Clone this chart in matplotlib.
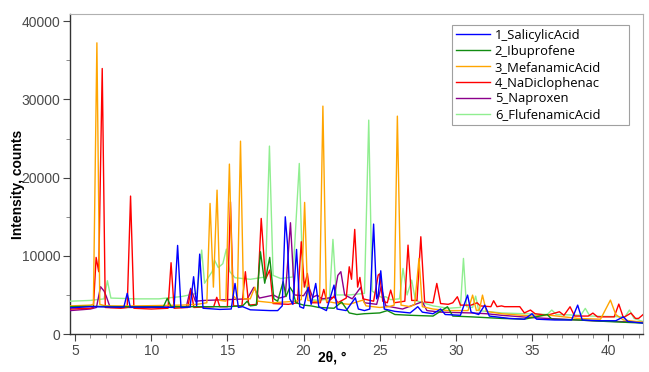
import matplotlib
matplotlib.use("Agg")
import matplotlib.pyplot as plt
from matplotlib.ticker import MultipleLocator

plt.rcParams['font.family'] = ['Liberation Sans', 'DejaVu Sans']

# vertices: 2theta (deg) and intensity (counts)
salicylic_2theta = [4.67, 6.0, 7.5, 8.2, 8.42, 8.62, 10.5, 11.5, 11.73, 11.95, 12.55, 12.78, 12.98, 13.18, 13.4,
                    14.5, 15.25, 15.5, 15.72, 16.0, 16.5, 17.8, 18.3, 18.6, 18.8, 18.95, 19.1, 19.3, 19.54, 19.75,
                    20.0, 20.3, 20.5, 20.8, 21.0, 21.5, 22.0, 22.2, 22.8, 23.4, 23.6, 24.0, 24.35, 24.6, 24.8,
                    24.9, 25.07, 25.3, 26.0, 27.0, 27.5, 27.8, 28.5, 29.0, 29.3, 30.3, 30.77, 31.0, 31.5, 31.9,
                    32.2, 33.5, 34.5, 35.0, 35.3, 36.5, 37.6, 38.0, 38.3, 39.5, 40.5, 41.0, 41.3, 42.3]
salicylic_counts = [3350, 3500, 3450, 3450, 5200, 3450, 3450, 3400, 11330, 3400, 3450, 7330, 3600, 10220, 3300,
                    3150, 3200, 6470, 3400, 3500, 3100, 3000, 3000, 3600, 14990, 11400, 4500, 3800, 10820, 3500,
                    3300, 5970, 3800, 6470, 3500, 3000, 6260, 3200, 3000, 4630, 3200, 3000, 3200, 14060, 4500,
                    5000, 8090, 3200, 2900, 2700, 3500, 2800, 2600, 3200, 2500, 2400, 4980, 2800, 2500, 3700,
                    2300, 2000, 1900, 2600, 1900, 1800, 1800, 3700, 1800, 1700, 1700, 2200, 1600, 1400]

ibuprofen_2theta = [4.67, 6.0, 8.0, 10.8, 11.05, 11.3, 12.0, 15.0, 16.0, 16.3, 16.5, 16.9, 17.17, 17.45, 17.78,
                    18.05, 18.3, 18.66, 18.85, 19.1, 19.3, 19.5, 20.0, 20.5, 21.0, 22.0, 22.5, 23.0, 23.5, 24.0,
                    25.0, 25.5, 26.0, 27.0, 28.5, 29.45, 29.8, 31.0, 32.0, 33.0, 34.5, 36.0, 36.3, 38.0, 40.0, 42.3]
ibuprofen_counts = [3500, 3550, 3500, 3500, 4560, 3500, 3500, 3500, 3600, 4200, 3600, 3700, 10520, 6500, 9800,
                    4500, 4200, 6690, 4800, 6000, 5400, 4000, 3700, 3600, 3400, 3300, 4100, 2700, 2500, 2600,
                    2700, 3000, 2500, 2400, 2300, 3490, 2300, 2200, 2100, 2000, 1900, 2500, 1900, 1800, 1600, 1400]

mefenamic_2theta = [4.67, 6.0, 6.2, 6.43, 6.62, 7.0, 9.0, 12.0, 13.0, 13.65, 13.86, 14.08, 14.32, 14.52, 14.9,
                    15.13, 15.35, 15.65, 15.86, 16.06, 16.5, 16.8, 17.0, 18.0, 19.5, 19.85, 20.07, 20.28, 21.05,
                    21.27, 21.5, 22.0, 23.0, 23.9, 24.1, 25.0, 25.6, 25.95, 26.16, 26.4, 27.0, 27.3, 27.58, 27.8,
                    28.5, 29.5, 30.8, 31.1, 31.35, 31.55, 31.75, 32.0, 33.0, 35.0, 36.2, 38.0, 39.5, 40.15, 40.5,
                    41.0, 42.3]
mefenamic_counts = [3600, 3700, 3800, 37230, 3800, 3600, 3600, 3700, 3800, 4000, 16700, 6000, 18400, 4300, 4200,
                    21730, 5000, 4300, 24660, 4500, 4500, 6000, 4200, 4000, 4200, 4400, 16830, 4300, 4100,
                    29140, 4200, 4000, 3800, 4340, 3600, 3400, 3500, 3700, 27860, 3700, 3500, 3800, 9670, 3500,
                    3200, 3000, 3000, 4980, 3000, 3100, 4980, 2900, 2600, 2300, 2400, 2000, 1900, 4340, 2500,
                    1800, 1500]

diclofenac_2theta = [4.67, 6.0, 6.2, 6.38, 6.55, 6.78, 6.98, 8.0, 8.42, 8.64, 8.86, 10.0, 11.1, 11.3, 11.5, 12.4,
                     12.6, 12.8, 14.1, 14.3, 14.5, 15.0, 15.2, 15.4, 15.95, 16.18, 16.4, 16.95, 17.22, 17.5,
                     17.78, 18.0, 19.0, 19.6, 19.85, 20.05, 20.25, 20.5, 21.1, 21.33, 21.55, 22.0, 22.25, 22.8,
                     23.0, 23.15, 23.36, 23.55, 23.7, 23.9, 24.6, 24.9, 25.0, 25.2, 25.5, 25.72, 25.95, 26.65,
                     26.86, 27.1, 27.45, 27.7, 27.95, 28.5, 28.75, 29.0, 29.5, 29.8, 30.1, 30.3, 31.0, 31.4, 31.6,
                     32.3, 32.48, 32.7, 33.0, 33.2, 34.2, 34.5, 34.9, 35.2, 36.0, 36.8, 37.1, 37.5, 37.8, 38.7,
                     39.0, 39.3, 40.4, 40.7, 41.0, 41.5, 41.8, 42.0, 42.3]
diclofenac_counts = [3200, 3300, 3400, 9800, 7970, 33950, 3400, 3300, 3400, 17640, 3300, 3200, 3300, 9120, 3300, 3400,
                     5600, 3400, 3500, 4700, 3500, 3500, 16900, 3600, 3600, 7970, 3700, 3800, 14780, 7000,
                     8180, 3900, 3800, 4000, 11800, 6000, 7750, 4000, 4000, 5710, 4000, 4800, 4000, 4600,
                     8600, 7000, 13380, 6000, 7240, 4500, 4200, 7540, 7700, 4200, 4000, 5620, 4000, 4200,
                     11370, 4300, 4300, 12440, 4100, 4000, 6470, 3900, 3800, 4000, 4770, 3700, 3700, 4000, 3600,
                     3500, 4260, 3500, 3600, 3500, 3500, 2700, 3070, 2600, 2400, 2850, 2400, 3490, 2300, 2300,
                     2680, 2200, 2200, 3830, 2100, 2680, 2000, 2000, 2500]

naproxen_2theta = [4.67, 6.0, 6.4, 6.67, 6.9, 7.05, 7.3, 10.0, 12.3, 12.59, 12.9, 13.5, 15.0, 16.3, 16.73, 17.1,
                   18.03, 18.4, 18.8, 19.14, 19.4, 20.0, 20.35, 20.6, 20.9, 21.2, 22.0, 22.25, 22.45, 22.7, 23.2,
                   23.75, 24.0, 24.8, 25.1, 25.4, 26.5, 27.8, 28.1, 29.0, 31.0, 32.0, 33.0, 35.0, 37.0, 39.0, 42.3]
naproxen_counts = [3000, 3200, 3400, 6050, 5500, 4800, 3400, 3400, 3500, 5840, 4200, 4300, 4400, 4500, 5970, 4600,
                   4980, 4600, 4800, 14230, 5000, 4900, 5970, 4700, 4980, 4500, 4700, 7500, 7970, 5000, 4500,
                   5970, 4000, 3800, 6050, 3600, 3200, 4130, 3000, 2800, 2700, 2600, 2400, 2100, 1900, 1700, 1500]

flufenamic_2theta = [4.67, 6.0, 6.9, 7.12, 7.35, 9.0, 10.5, 12.0, 13.0, 13.31, 13.5, 14.0, 14.15, 14.4, 14.7, 14.93,
                     15.15, 15.5, 16.5, 17.5, 17.76, 18.0, 18.5, 19.3, 19.72, 19.95, 20.3, 20.5, 21.0, 21.7, 21.93,
                     22.15, 23.0, 24.0, 24.28, 24.5, 25.1, 25.4, 25.7, 26.3, 26.53, 26.8, 27.1, 27.35, 28.5, 29.5,
                     30.3, 30.5, 30.7, 31.1, 31.3, 31.5, 33.0, 36.0, 36.3, 36.6, 38.2, 38.5, 38.8, 41.1, 41.4, 41.7,
                     42.3]
flufenamic_counts = [4200, 4300, 4500, 6820, 4600, 4500, 4500, 4800, 5200, 10740, 6500, 8000, 9460, 8500, 9000, 10860,
                     8000, 7200, 7000, 7300, 24030, 7500, 7100, 7300, 21810, 7000, 5500, 4400, 4300, 4500, 12100,
                     5000, 5000, 5200, 27350, 5500, 4700, 4770, 4400, 4500, 8390, 5000, 6900, 4300, 3600, 3300,
                     3400, 9670, 3500, 3400, 4850, 3000, 2700, 2500, 3070, 2500, 2400, 3280, 2300, 2200, 3070, 2000,
                     1600]

names = ['1_SalicylicAcid', '2_Ibuprofene', '3_MefanamicAcid', '4_NaDiclophenac', '5_Naproxen', '6_FlufenamicAcid']
colors = ['#0000ff', '#118c11', '#ffa500', '#ff0000', '#8b008b', '#90ee90']
series = [(salicylic_2theta, salicylic_counts), (ibuprofen_2theta, ibuprofen_counts),
          (mefenamic_2theta, mefenamic_counts), (diclofenac_2theta, diclofenac_counts),
          (naproxen_2theta, naproxen_counts), (flufenamic_2theta, flufenamic_counts)]

fig = plt.figure(figsize=(6.49, 3.72), dpi=100)
ax = fig.add_axes([0.108, 0.102, 0.883, 0.86])

for i, ((x, y), name, c) in enumerate(zip(series, names, colors)):
    ax.plot(x, y, color=c, lw=1.0, label=name, zorder=10 - i)

ax.set_xlim(4.67, 42.3)
ax.set_ylim(0, 40900)
ax.xaxis.set_major_locator(MultipleLocator(5))
ax.xaxis.set_minor_locator(MultipleLocator(1))
ax.yaxis.set_major_locator(MultipleLocator(10000))
ax.yaxis.set_minor_locator(MultipleLocator(5000))
ax.tick_params(which='major', length=5, width=0.8, color='#444444', labelsize=10, labelcolor='#4a4a4a', pad=2)
ax.tick_params(which='minor', length=3, width=0.6, color='#777777')

for s in ['left', 'bottom']:
    ax.spines[s].set_color('#333333')
    ax.spines[s].set_linewidth(1.0)
for s in ['top', 'right']:
    ax.spines[s].set_color('#b0b0b0')
    ax.spines[s].set_linewidth(0.8)

fig.text(332 / 649, 1 - 358 / 372, '2θ, °', ha='center', va='center', fontsize=10, fontweight='bold')
fig.text(18 / 649, 1 - 184 / 372, 'Intensity, counts', ha='center', va='center', rotation=90,
         fontsize=10, fontweight='bold')

# legend box stretched to the width seen in the reference
leg = ax.legend(loc='upper left', bbox_to_anchor=(0.667, 0.632, 0.309, 0.334), mode='expand',
                frameon=True, fancybox=False,
                prop={'family': ['Open Sans', 'DejaVu Sans'], 'size': 9.4},
                handlelength=2.6, handletextpad=0.35, labelspacing=0.22, borderpad=0.3, borderaxespad=0)
leg.get_frame().set_edgecolor('#a0a0a0')
leg.get_frame().set_linewidth(0.8)
leg.get_frame().set_alpha(1)

fig.savefig('out.png', dpi=100)
